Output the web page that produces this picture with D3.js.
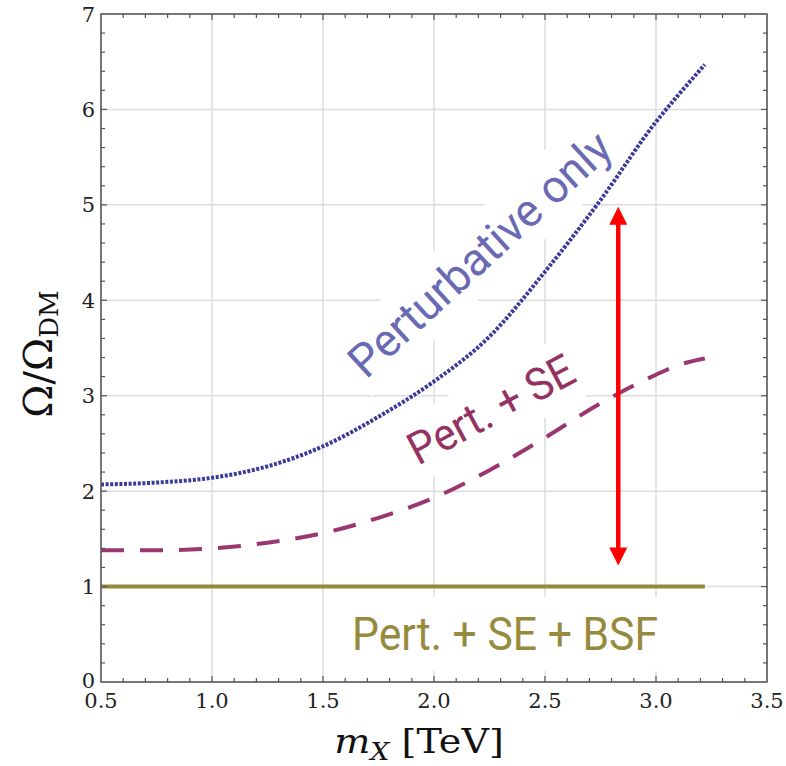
<!DOCTYPE html>
<html>
<head>
<meta charset="utf-8">
<script src="https://cdn.jsdelivr.net/npm/d3@7"></script>
<style>
  body { margin: 0; background: #fff; }
  svg { display: block; }
</style>
</head>
<body>
<svg id="chart" width="786" height="766"></svg>
<script>
// data
var massTeV   = [0.5, 0.75, 1.0, 1.25, 1.5, 1.75, 2.0, 2.25, 2.5, 2.75, 3.0, 3.1, 3.22];
var pertOnly  = [2.07, 2.09, 2.14, 2.26, 2.47, 2.78, 3.15, 3.62, 4.3, 5.05, 5.87, 6.15, 6.47];
var pertSE    = [1.38, 1.38, 1.40, 1.46, 1.56, 1.72, 1.93, 2.22, 2.56, 2.92, 3.22, 3.32, 3.39];
var pertSEBSF = [1, 1, 1, 1, 1, 1, 1, 1, 1, 1, 1, 1, 1];
var xTicks = [0.5, 1.0, 1.5, 2.0, 2.5, 3.0, 3.5];
var yTicks = [0, 1, 2, 3, 4, 5, 6, 7];
var arrowX = 2.83, arrowTop = 4.98, arrowBottom = 1.22;

var svg = d3.select("#chart");

var x = d3.scaleLinear().domain([0.5, 3.5]).range([101, 767]);
var y = d3.scaleLinear().domain([0, 7]).range([682, 14]);

var serif = "DejaVu Serif";
var frameColor = "#555";

// gridlines
var grid = svg.append("g").attr("class", "grid")
    .attr("stroke", "#dcdcdc").attr("stroke-width", 1.5);
grid.selectAll("line.gx")
  .data(xTicks.slice(1, -1))
  .enter().append("line")
    .attr("x1", d => x(d)).attr("x2", d => x(d))
    .attr("y1", y(0)).attr("y2", y(7));
grid.selectAll("line.gy")
  .data(yTicks.slice(1, -1))
  .enter().append("line")
    .attr("y1", d => y(d)).attr("y2", d => y(d))
    .attr("x1", x(0.5)).attr("x2", x(3.5));

// label layers (bg drawn under the curves, text over them)
var bgLayer = svg.append("g");
var curveLayer = svg.append("g");
var textLayer = svg.append("g");

var line = d3.line()
    .x((d, i) => x(massTeV[i]))
    .y(d => y(d))
    .curve(d3.curveMonotoneX);

curveLayer.append("path")
    .datum(pertSEBSF)
    .attr("d", line)
    .attr("fill", "none")
    .attr("stroke", "#958a3b")
    .attr("stroke-width", 4);

curveLayer.append("path")
    .datum(pertSE)
    .attr("d", line)
    .attr("fill", "none")
    .attr("stroke", "#9a3770")
    .attr("stroke-width", 4)
    .attr("stroke-dasharray", "23,16");

curveLayer.append("path")
    .datum(pertOnly)
    .attr("d", line)
    .attr("fill", "none")
    .attr("stroke", "#3a3a9a")
    .attr("stroke-width", 4)
    .attr("stroke-dasharray", "3,1.6");

// curve labels
function addLabel(txt, px, py, angle, size, len, color, pad) {
  var g = textLayer.append("g")
      .attr("transform", "translate(" + px + "," + py + ") rotate(" + angle + ")");
  var t = g.append("text")
      .attr("font-family", "Roboto")
      .attr("font-size", size)
      .attr("fill", color)
      .attr("textLength", len)
      .attr("lengthAdjust", "spacingAndGlyphs")
      .text(txt);
  var bb = t.node().getBBox();
  bgLayer.append("rect")
      .attr("transform", "translate(" + px + "," + py + ") rotate(" + angle + ")")
      .attr("x", bb.x - pad).attr("y", bb.y - pad)
      .attr("width", bb.width + 2 * pad).attr("height", bb.height + 2 * pad)
      .attr("fill", "#fff");
}
addLabel("Perturbative only", 366, 380, -42.5, 46, 338, "#6a6ab4", 6);
addLabel("Pert. + SE", 418, 466, -28, 45, 182, "#943262", 6);
addLabel("Pert. + SE + BSF", 352, 650, 0, 46, 306, "#968b3d", 10);

// red double arrow
var ax = x(arrowX), head = 18, half = 9;
var arrow = svg.append("g").attr("fill", "#ff0000");
arrow.append("line")
    .attr("x1", ax).attr("x2", ax)
    .attr("y1", y(arrowTop) + head - 2).attr("y2", y(arrowBottom) - head + 2)
    .attr("stroke", "#ff0000").attr("stroke-width", 4.5);
arrow.append("path")
    .attr("d", "M" + ax + "," + y(arrowTop) + "L" + (ax - half) + "," + (y(arrowTop) + head) +
               "L" + (ax + half) + "," + (y(arrowTop) + head) + "Z");
arrow.append("path")
    .attr("d", "M" + ax + "," + y(arrowBottom) + "L" + (ax - half) + "," + (y(arrowBottom) - head) +
               "L" + (ax + half) + "," + (y(arrowBottom) - head) + "Z");

// frame with inward ticks on all sides
var frame = svg.append("g").attr("stroke", frameColor);
frame.append("rect")
    .attr("x", x(0.5)).attr("y", y(7))
    .attr("width", x(3.5) - x(0.5)).attr("height", y(0) - y(7))
    .attr("fill", "none").attr("stroke-width", 1.6);

var xMinor = d3.range(6, 35).map(d => d / 10);
var yMinor = d3.range(1, 35).map(d => d / 5);

function tickLen(v, step) { return Math.abs(v / step - Math.round(v / step)) < 1e-6 ? 6 : 4; }

frame.selectAll("line.xb")
  .data(xMinor).enter().append("line")
    .attr("x1", d => x(d)).attr("x2", d => x(d))
    .attr("y1", y(0)).attr("y2", d => y(0) - tickLen(d, 0.5))
    .attr("stroke-width", 1.2);
frame.selectAll("line.xt")
  .data(xMinor).enter().append("line")
    .attr("x1", d => x(d)).attr("x2", d => x(d))
    .attr("y1", y(7)).attr("y2", d => y(7) + tickLen(d, 0.5))
    .attr("stroke-width", 1.2);
frame.selectAll("line.yl")
  .data(yMinor).enter().append("line")
    .attr("y1", d => y(d)).attr("y2", d => y(d))
    .attr("x1", x(0.5)).attr("x2", d => x(0.5) + tickLen(d, 1))
    .attr("stroke-width", 1.2);
frame.selectAll("line.yr")
  .data(yMinor).enter().append("line")
    .attr("y1", d => y(d)).attr("y2", d => y(d))
    .attr("x1", x(3.5)).attr("x2", d => x(3.5) - tickLen(d, 1))
    .attr("stroke-width", 1.2);

// tick labels
svg.append("g").selectAll("text")
  .data(xTicks).enter().append("text")
    .attr("x", d => x(d)).attr("y", y(0) + 26)
    .attr("text-anchor", "middle")
    .attr("font-family", serif).attr("font-size", 21).attr("fill", "#222")
    .text(d3.format(".1f"));
svg.append("g").selectAll("text")
  .data(yTicks).enter().append("text")
    .attr("x", x(0.5) - 6).attr("y", d => y(d) - (d === 0 ? 2 : 0))
    .attr("dy", "0.36em")
    .attr("text-anchor", "end")
    .attr("font-family", serif).attr("font-size", 21).attr("fill", "#222")
    .text(d => d);

// axis titles
var xt = svg.append("text")
    .attr("transform", "translate(419,753) scale(1.12,1)")
    .attr("text-anchor", "middle")
    .attr("font-family", serif).attr("font-size", 34).attr("fill", "#111");
xt.append("tspan").attr("font-style", "italic").text("m");
xt.append("tspan").attr("font-style", "italic").attr("font-size", 24).attr("dy", 7).text("X");
xt.append("tspan").attr("dy", -7).text(" [TeV]");

var yt = svg.append("text")
    .attr("transform", "translate(52,354) rotate(-90)")
    .attr("text-anchor", "middle")
    .attr("font-family", serif).attr("font-size", 40).attr("fill", "#111");
yt.append("tspan").text("Ω/Ω");
yt.append("tspan").attr("font-size", 26).attr("dy", 6).text("DM");
</script>
</body>
</html>
